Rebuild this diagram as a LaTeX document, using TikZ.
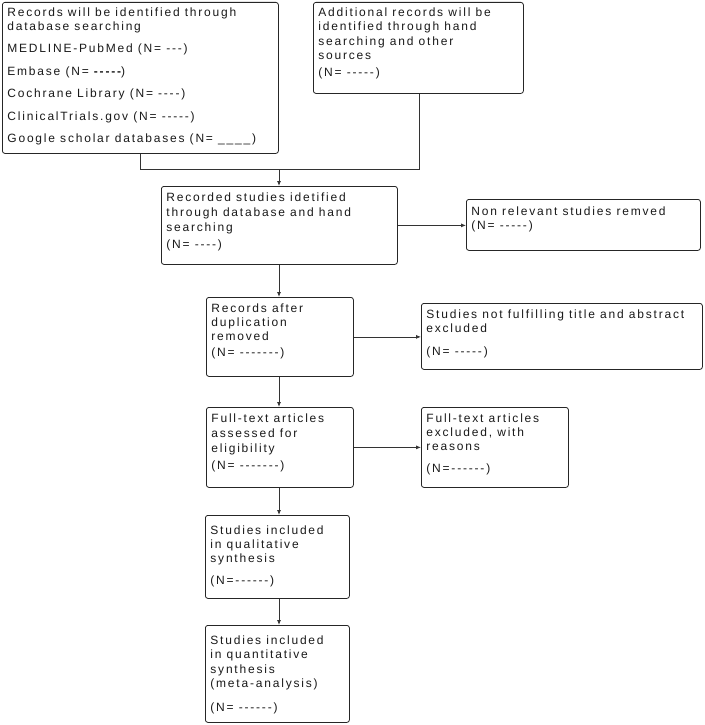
\documentclass[tikz,border=0pt]{standalone}
\usepackage{fontspec}
\setmainfont{Liberation Sans}[Ligatures=TeXOff,LetterSpace=15]
\usetikzlibrary{arrows.meta}
\newcommand\bxt[4][0pt]{\parbox[c][\dimexpr#3pt-8pt\relax][t]{\dimexpr#2pt-10pt\relax}{\fontsize{12}{14}\selectfont\vspace*{#1}\begin{tabular}[t]{@{}l@{}}#4\end{tabular}}}
\tikzset{
  bx/.style={draw=black!85, line width=0.8pt, rounded corners=2.5pt, inner xsep=5pt, inner ysep=4pt, anchor=north west, text=black!90},
  link/.style={draw=black!80, line width=0.8pt},
  arr/.style={link, -{Latex[length=5pt,width=4pt]}}
}
\begin{document}
\begin{tikzpicture}[x=1pt,y=1pt]
\useasboundingbox (0,0) rectangle (704,-725);
\node[bx] (b1) at (2,-2) {\bxt{276}{151}{Records will be identified through\\database searching\\[8.5pt]MEDLINE-PubMed (N= ---)\\[8.5pt]Embase (N= {\bfseries -----})\\[8.5pt]Cochrane Library (N= ----)\\[8.5pt]ClinicalTrials.gov (N= -----)\\[8.5pt]Google scholar databases (N= \_\_\_\_)}};
\node[bx] (b2) at (313,-2) {\bxt{210}{91}{Additional records will be\\[0.5pt]identified through hand\\[0.5pt]searching and other\\[0.5pt]sources\\[3pt](N= -----)}};
\node[bx] (b3) at (161,-186) {\bxt[1pt]{236}{78}{Recorded studies idetified\\[1pt]through database and hand\\[1pt]searching\\[3pt](N= ----)}};
\node[bx] (b4) at (466,-199) {\bxt[2pt]{234}{51}{Non relevant studies remved\\(N= -----)}};
\node[bx] (b5) at (206,-297) {\bxt[1pt]{147}{79}{Records after\\duplication\\removed\\[2pt](N= -------)}};
\node[bx] (b6) at (421,-303) {\bxt[1pt]{281}{66}{Studies not fulfilling title and abstract\\excluded\\[9pt](N= -----)}};
\node[bx] (b7) at (206,-407) {\bxt[1pt]{147}{80}{Full-text articles\\[1pt]assessed for\\[1pt]eligibility\\[3pt](N= -------)}};
\node[bx] (b8) at (421,-407) {\bxt[1pt]{147}{80}{Full-text articles\\excluded, with\\reasons\\[8pt](N=------)}};
\node[bx] (b9) at (205,-515) {\bxt[5pt]{144}{83}{Studies included\\in qualitative\\synthesis\\[8pt](N=------)}};
\node[bx] (b10) at (205,-625) {\bxt[5pt]{144}{97}{Studies included\\[0.5pt]in quantitative\\[0.5pt]synthesis\\[0.5pt](meta-analysis)\\[10pt](N= ------)}};
\coordinate (j1) at (140,-169);
\coordinate (j2) at (419,-169);
\coordinate (j3) at (279,-169);
\draw[link] (b1.south -| j1) -- (j1) -- (j2) -- (b2.south -| j2);
\draw[arr] (j3) -- (j3 |- b3.north);
\draw[arr] (b3.east) -- (b3.east -| b4.west);
\draw[arr] (b3.south -| j3) -- (j3 |- b5.north);
\draw[arr] (b5.east) -- (b5.east -| b6.west);
\draw[arr] (b5.south -| j3) -- (j3 |- b7.north);
\draw[arr] (b7.east) -- (b7.east -| b8.west);
\draw[arr] (b7.south -| j3) -- (j3 |- b9.north);
\draw[arr] (b9.south -| j3) -- (j3 |- b10.north);
\end{tikzpicture}
\end{document}
